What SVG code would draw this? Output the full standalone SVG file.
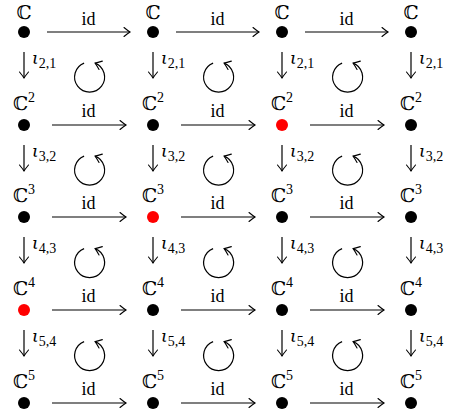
<svg xmlns="http://www.w3.org/2000/svg" width="451" height="414" viewBox="0 0 451 414">
<style>
text{font-family:"Liberation Serif","DejaVu Serif",serif;fill:#000}
.C{font-size:19px;text-anchor:middle}
.sup{font-size:14px}
.id{font-size:18px;text-anchor:middle}
.io{font-size:17px;font-style:italic;font-family:"DejaVu Serif","Liberation Serif",serif}
.sub{font-size:14px;font-style:normal;font-family:"Liberation Serif","DejaVu Serif",serif}
.ln{stroke:#000;stroke-width:1.2;fill:none}
.dot{fill:#000}
.red{fill:#ff0000}
</style>
<defs>
<marker id="ah" viewBox="-8 -6 9 12" markerWidth="9" markerHeight="12" refX="0" refY="0" markerUnits="userSpaceOnUse" orient="auto" overflow="visible">
<path d="M-6,-4.5 Q-2,-1.2 0,0 Q-2,1.2 -6,4.5" fill="none" stroke="#000" stroke-width="1.1" stroke-linecap="round"/>
</marker>
</defs>
<g id="connectors">
<g class="ln" marker-end="url(#ah)">
<path d="M47,32H130"/><path d="M176,32H259"/><path d="M305,32H388"/>
<path d="M52,125H126"/><path d="M181,125H255"/><path d="M310,125H384"/>
<path d="M52,217H126"/><path d="M181,217H255"/><path d="M310,217H384"/>
<path d="M52,310H126"/><path d="M181,310H255"/><path d="M310,310H384"/>
<path d="M52,403H126"/><path d="M181,403H255"/><path d="M310,403H384"/>
<path d="M24,52V78"/><path d="M153,52V78"/><path d="M282,52V78"/><path d="M411,52V78"/>
<path d="M24,145V171"/><path d="M153,145V171"/><path d="M282,145V171"/><path d="M411,145V171"/>
<path d="M24,237V263"/><path d="M153,237V263"/><path d="M282,237V263"/><path d="M411,237V263"/>
<path d="M24,330V356"/><path d="M153,330V356"/><path d="M282,330V356"/><path d="M411,330V356"/>
<path d="M84.1,63.1A15,15 0 1 0 95.1,63.1"/>
<path d="M213.1,63.1A15,15 0 1 0 224.1,63.1"/>
<path d="M342.1,63.1A15,15 0 1 0 353.1,63.1"/>
<path d="M84.1,156.1A15,15 0 1 0 95.1,156.1"/>
<path d="M213.1,156.1A15,15 0 1 0 224.1,156.1"/>
<path d="M342.1,156.1A15,15 0 1 0 353.1,156.1"/>
<path d="M84.1,248.6A15,15 0 1 0 95.1,248.6"/>
<path d="M213.1,248.6A15,15 0 1 0 224.1,248.6"/>
<path d="M342.1,248.6A15,15 0 1 0 353.1,248.6"/>
<path d="M84.1,341.6A15,15 0 1 0 95.1,341.6"/>
<path d="M213.1,341.6A15,15 0 1 0 224.1,341.6"/>
<path d="M342.1,341.6A15,15 0 1 0 353.1,341.6"/>
</g>
<g>
<text class="id" x="88.5" y="25">id</text><text class="id" x="217.5" y="25">id</text><text class="id" x="346.5" y="25">id</text>
<text class="id" x="88.5" y="117">id</text><text class="id" x="217.5" y="117">id</text><text class="id" x="346.5" y="117">id</text>
<text class="id" x="88.5" y="209">id</text><text class="id" x="217.5" y="209">id</text><text class="id" x="346.5" y="209">id</text>
<text class="id" x="88.5" y="302">id</text><text class="id" x="217.5" y="302">id</text><text class="id" x="346.5" y="302">id</text>
<text class="id" x="88.5" y="395">id</text><text class="id" x="217.5" y="395">id</text><text class="id" x="346.5" y="395">id</text>

<text class="io" x="32" y="64">ι<tspan class="sub" dy="4">2,1</tspan></text>
<text class="io" x="161" y="64">ι<tspan class="sub" dy="4">2,1</tspan></text>
<text class="io" x="290" y="64">ι<tspan class="sub" dy="4">2,1</tspan></text>
<text class="io" x="419" y="64">ι<tspan class="sub" dy="4">2,1</tspan></text>
<text class="io" x="32" y="157">ι<tspan class="sub" dy="4">3,2</tspan></text>
<text class="io" x="161" y="157">ι<tspan class="sub" dy="4">3,2</tspan></text>
<text class="io" x="290" y="157">ι<tspan class="sub" dy="4">3,2</tspan></text>
<text class="io" x="419" y="157">ι<tspan class="sub" dy="4">3,2</tspan></text>
<text class="io" x="32" y="249">ι<tspan class="sub" dy="4">4,3</tspan></text>
<text class="io" x="161" y="249">ι<tspan class="sub" dy="4">4,3</tspan></text>
<text class="io" x="290" y="249">ι<tspan class="sub" dy="4">4,3</tspan></text>
<text class="io" x="419" y="249">ι<tspan class="sub" dy="4">4,3</tspan></text>
<text class="io" x="32" y="342">ι<tspan class="sub" dy="4">5,4</tspan></text>
<text class="io" x="161" y="342">ι<tspan class="sub" dy="4">5,4</tspan></text>
<text class="io" x="290" y="342">ι<tspan class="sub" dy="4">5,4</tspan></text>
<text class="io" x="419" y="342">ι<tspan class="sub" dy="4">5,4</tspan></text>
</g>
</g>

<g id="n11"><text class="C" x="24" y="19">ℂ</text><circle class="dot" cx="24" cy="32" r="6"/></g>
<g id="n12"><text class="C" x="153" y="19">ℂ</text><circle class="dot" cx="153" cy="32" r="6"/></g>
<g id="n13"><text class="C" x="282" y="19">ℂ</text><circle class="dot" cx="282" cy="32" r="6"/></g>
<g id="n14"><text class="C" x="411" y="19">ℂ</text><circle class="dot" cx="411" cy="32" r="6"/></g>

<g id="n21"><text class="C" x="24" y="110">ℂ<tspan class="sup" dy="-8">2</tspan></text><circle class="dot" cx="24" cy="125" r="6"/></g>
<g id="n22"><text class="C" x="153" y="110">ℂ<tspan class="sup" dy="-8">2</tspan></text><circle class="dot" cx="153" cy="125" r="6"/></g>
<g id="n23"><text class="C" x="282" y="110">ℂ<tspan class="sup" dy="-8">2</tspan></text><circle class="red" cx="282" cy="125" r="6"/></g>
<g id="n24"><text class="C" x="411" y="110">ℂ<tspan class="sup" dy="-8">2</tspan></text><circle class="dot" cx="411" cy="125" r="6"/></g>

<g id="n31"><text class="C" x="24" y="202">ℂ<tspan class="sup" dy="-8">3</tspan></text><circle class="dot" cx="24" cy="217" r="6"/></g>
<g id="n32"><text class="C" x="153" y="202">ℂ<tspan class="sup" dy="-8">3</tspan></text><circle class="red" cx="153" cy="217" r="6"/></g>
<g id="n33"><text class="C" x="282" y="202">ℂ<tspan class="sup" dy="-8">3</tspan></text><circle class="dot" cx="282" cy="217" r="6"/></g>
<g id="n34"><text class="C" x="411" y="202">ℂ<tspan class="sup" dy="-8">3</tspan></text><circle class="dot" cx="411" cy="217" r="6"/></g>

<g id="n41"><text class="C" x="24" y="295">ℂ<tspan class="sup" dy="-8">4</tspan></text><circle class="red" cx="24" cy="310" r="6"/></g>
<g id="n42"><text class="C" x="153" y="295">ℂ<tspan class="sup" dy="-8">4</tspan></text><circle class="dot" cx="153" cy="310" r="6"/></g>
<g id="n43"><text class="C" x="282" y="295">ℂ<tspan class="sup" dy="-8">4</tspan></text><circle class="dot" cx="282" cy="310" r="6"/></g>
<g id="n44"><text class="C" x="411" y="295">ℂ<tspan class="sup" dy="-8">4</tspan></text><circle class="dot" cx="411" cy="310" r="6"/></g>

<g id="n51"><text class="C" x="24" y="388">ℂ<tspan class="sup" dy="-8">5</tspan></text><circle class="dot" cx="24" cy="403" r="6"/></g>
<g id="n52"><text class="C" x="153" y="388">ℂ<tspan class="sup" dy="-8">5</tspan></text><circle class="dot" cx="153" cy="403" r="6"/></g>
<g id="n53"><text class="C" x="282" y="388">ℂ<tspan class="sup" dy="-8">5</tspan></text><circle class="dot" cx="282" cy="403" r="6"/></g>
<g id="n54"><text class="C" x="411" y="388">ℂ<tspan class="sup" dy="-8">5</tspan></text><circle class="dot" cx="411" cy="403" r="6"/></g>
</svg>
